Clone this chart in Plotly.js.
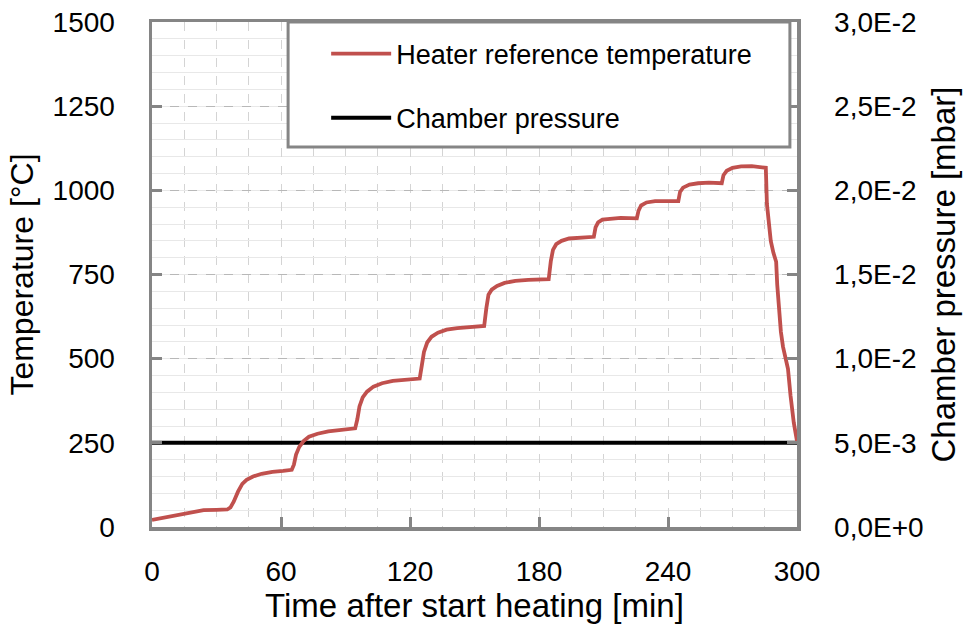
<!DOCTYPE html>
<html>
<head>
<meta charset="utf-8">
<script src="https://cdn.plot.ly/plotly-3.0.1.min.js"></script>
<style>html,body{margin:0;padding:0;background:#fff;}#chart{width:975px;height:628px;}</style>
</head>
<body>
<div id="chart"></div>
<script>
// Heater reference temperature [°C] vs time [min]
const timeTemp = [0,4,10,15,20,24,30,35,36.5,38,40,42,44,47,51,56,61,65,66,67,68.5,70.5,73,77,82,88,94.5,95.5,96.5,98,100,103,107,112,118,124.5,125.5,126.5,128,130,133,137,142,148,154.5,155.5,156.5,158,160.5,164,169,175,184.5,185.5,186.5,188,190.5,194,199,205.5,206.3,207.5,209.5,213,218,225.5,226.3,227.5,230,234,240,244.8,245.6,247,250,254,259,265,265.8,267.3,270,274,279,285.5,286,286.8,287.8,289,290.3,290.8,291.5,292.5,293.5,295,295.8,297,298.5,300];
const temperature = [21,26,34,41,47,50,51,52,58,75,105,128,140,150,158,164,167,170,185,215,238,255,268,277,284,289,293,320,358,385,402,417,427,434,438,441,480,520,548,565,577,586,591,594,597,650,690,705,716,725,731,734,736,790,823,840,850,857,860,862,890,905,913,916,918,917,940,955,964,968,969,968,995,1008,1017,1021,1023,1021,1045,1058,1067,1071,1072,1067,960,900,850,815,788,720,650,580,535,490,470,390,310,255];
// Chamber pressure [mbar] vs time [min]
const timePress = [0,30,60,90,120,150,180,210,240,270,300];
const pressure = [0.00500,0.00501,0.00500,0.00499,0.00500,0.00501,0.00500,0.00500,0.00499,0.00500,0.00500];
// Axis ticks
const xTicks = [0,60,120,180,240,300];
const tempTicks = [0,250,500,750,1000,1250,1500];
const pressTicks = [0,0.005,0.01,0.015,0.02,0.025,0.03];
const pressTickText = ['0,0E+0','5,0E-3','1,0E-2','1,5E-2','2,0E-2','2,5E-2','3,0E-2'];
const seriesNames = ['Heater reference temperature','Chamber pressure'];

const frame = '#858585';
const font = 'Liberation Sans, Arial, Helvetica, sans-serif';

// pressure on the base (right) axis, temperature on the overlaying (left) axis so the red curve is drawn on top
const traces = [
  {x: timeTemp, y: temperature, type: 'scatter', mode: 'lines', name: seriesNames[0],
   line: {color: '#c0504d', width: 3.8}, yaxis: 'y2', legendgroup: 'a', legendrank: 1},
  {x: timePress, y: pressure, type: 'scatter', mode: 'lines', name: seriesNames[1],
   line: {color: '#000000', width: 4}, yaxis: 'y', legendgroup: 'b', legendrank: 2}
];

const layout = {
  width: 975, height: 628,
  margin: {l: 152, r: 178, t: 22, b: 101, pad: 0},
  paper_bgcolor: '#ffffff', plot_bgcolor: '#ffffff',
  font: {family: font, color: '#000', size: 28},
  showlegend: true,
  legend: {x: 0.27, y: 0.985, xanchor: 'left', yanchor: 'top', bgcolor: 'rgba(0,0,0,0)',
           borderwidth: 0, font: {size: 27, color: '#000'}, tracegroupgap: 26, itemwidth: 60,
           traceorder: 'grouped'},
  xaxis: {range: [0, 300], tickvals: xTicks, ticks: 'inside', ticklen: 10, tickwidth: 3, tickcolor: frame,
          showline: true, linecolor: frame, linewidth: 3.5, mirror: true, zeroline: false,
          showgrid: true, gridcolor: '#d4d4d4', griddash: 'dash', gridwidth: 1,
          minor: {dtick: 15, showgrid: true, gridcolor: '#d4d4d4', griddash: 'dash', gridwidth: 1},
          ticklabelstandoff: 17, tickfont: {size: 28},
          title: {text: 'Time after start heating [min]', font: {size: 33}, standoff: 8}},
  yaxis: {range: [0, 0.03], side: 'right', tickvals: pressTicks, ticktext: pressTickText,
          ticks: 'inside', ticklen: 10, tickwidth: 3, tickcolor: frame,
          showline: true, linecolor: frame, linewidth: 3.5, showgrid: false, zeroline: false,
          ticklabelstandoff: 28, tickfont: {size: 28},
          title: {text: 'Chamber pressure [mbar]', font: {size: 33}, standoff: 10}},
  yaxis2: {range: [0, 1500], overlaying: 'y', side: 'left', tickvals: tempTicks,
           ticks: 'inside', ticklen: 10, tickwidth: 3, tickcolor: frame,
           showline: true, linecolor: frame, linewidth: 3.5, zeroline: false,
           showgrid: true, gridcolor: '#b8b8b8', griddash: 'dash', gridwidth: 1,
           minor: {dtick: 50, showgrid: true, gridcolor: '#e8e8e8', griddash: 'solid', gridwidth: 1},
           ticklabelstandoff: 28, tickfont: {size: 28},
           title: {text: 'Temperature [°C]', font: {size: 32}, standoff: 10}},
  shapes: [{type: 'rect', xref: 'paper', yref: 'paper', x0: 0.211, x1: 0.989, y0: 0.7525, y1: 1.0,
            line: {color: frame, width: 3}, fillcolor: '#ffffff', layer: 'above'}]
};

Plotly.newPlot('chart', traces, layout, {displayModeBar: false, staticPlot: true});
</script>
</body>
</html>
